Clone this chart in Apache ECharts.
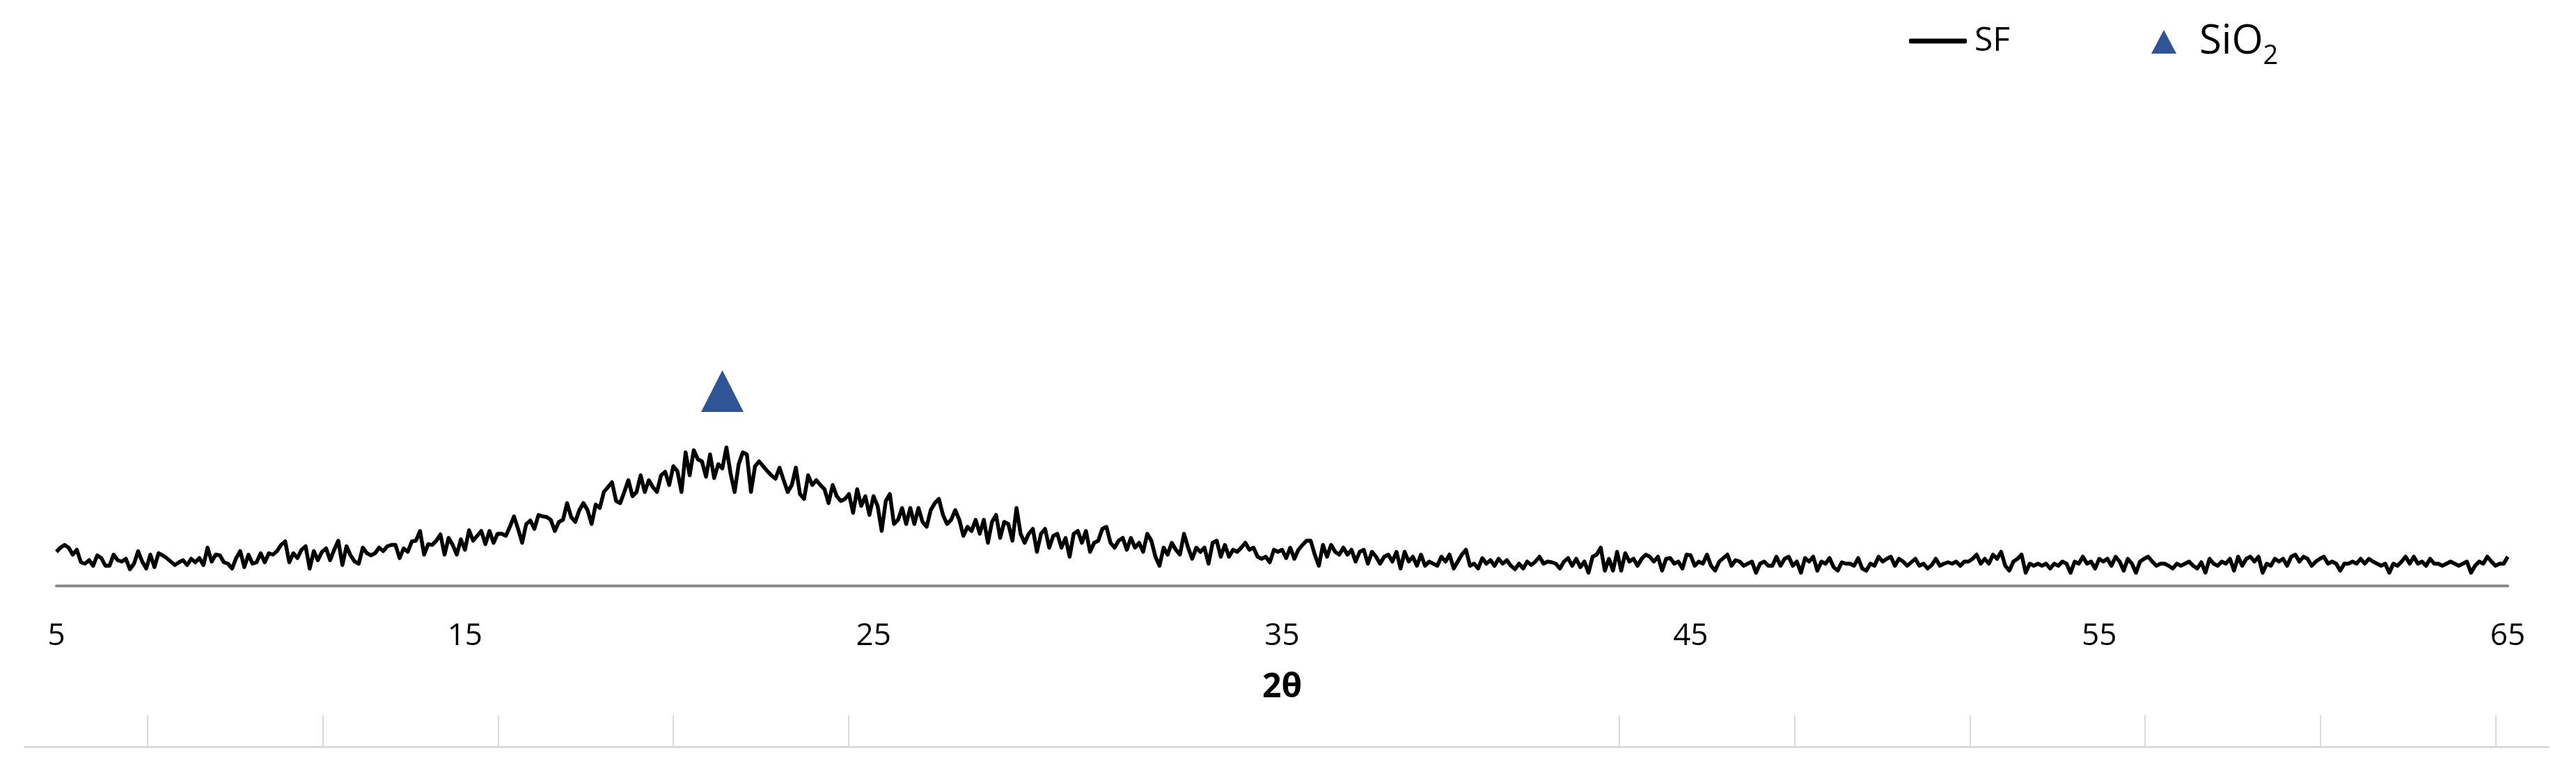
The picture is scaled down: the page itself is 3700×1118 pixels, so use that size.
<!DOCTYPE html>
<html>
<head>
<meta charset="utf-8">
<title>XRD - SF</title>
<script src="https://cdn.jsdelivr.net/npm/echarts@6/dist/echarts.min.js"></script>
<style>
  html, body { margin: 0; padding: 0; background: #fff; }
  #chart { width: 3700px; height: 1118px; }
</style>
</head>
<body>
<div id="chart"></div>
<script>
// scan: 2θ from 5 to 65, one reading every 0.1°
const scanStart = 5;
const scanStep = 0.1;

// SF intensity (counts), split by 2θ range
const sf05to17 = [
  49, 55, 59, 55, 45, 52, 34, 32, 37, 29,
  44, 40, 29, 29, 45, 37, 35, 39, 24, 32,
  50, 35, 25, 45, 27, 47, 44, 40, 35, 30,
  34, 37, 30, 39, 34, 40, 30, 55, 35, 45,
  44, 34, 32, 25, 40, 50, 27, 45, 32, 34,
  47, 34, 47, 45, 50, 59, 64, 34, 47, 40,
  52, 57, 25, 50, 37, 49, 54, 37, 52, 65,
  30, 57, 44, 35, 32, 55, 47, 44, 47, 55,
  50, 57, 59, 59, 40, 54, 49, 64, 65, 79,
  45, 60, 59, 65, 74, 45, 69, 59, 45, 67,
  52, 80, 65, 72, 79, 60, 79, 62, 75, 75,
  72, 85, 100, 82, 62, 89, 94, 82, 102, 100,
  99
];
const sf17to29 = [
  95, 79, 92, 95, 119, 99, 92, 109, 119,
  109, 89, 117, 112, 135, 142, 149, 122, 119, 135,
  152, 129, 135, 159, 135, 152, 142, 135, 159, 164,
  145, 172, 165, 135, 192, 159, 195, 182, 179, 157,
  189, 155, 175, 169, 199, 162, 135, 175, 192, 189,
  135, 172, 179, 172, 165, 159, 154, 170, 152, 135,
  145, 170, 132, 125, 159, 145, 152, 145, 139, 119,
  145, 129, 122, 125, 132, 105, 139, 115, 129, 102,
  129, 115, 79, 122, 132, 89, 95, 112, 89, 112,
  89, 112, 92, 85, 109, 119, 125, 102, 89, 95,
  109, 95, 72, 85, 79, 95, 75, 95, 62, 92,
  102, 69, 92, 89, 65, 112, 75, 62, 75, 82,
  49, 75
];
const sf29to41 = [
  82, 55, 72, 75, 55, 69, 42, 75,
  79, 62, 79, 49, 62, 65, 82, 85, 62, 55,
  65, 69, 52, 69, 55, 62, 49, 75, 65, 42,
  29, 55, 45, 62, 52, 45, 75, 55, 39, 55,
  49, 55, 32, 62, 65, 42, 59, 42, 52, 49,
  55, 62, 52, 55, 42, 39, 42, 34, 52, 49,
  52, 40, 55, 39, 52, 59, 65, 65, 45, 29,
  59, 42, 59, 49, 45, 55, 45, 52, 35, 49,
  52, 32, 49, 42, 32, 42, 45, 35, 49, 25,
  49, 35, 42, 29, 45, 29, 35, 32, 29, 42,
  35, 45, 25, 35, 45, 52, 29, 32, 25, 40,
  32, 37, 29, 39, 32, 37, 29, 24, 32, 25,
  35, 30
];
const sf41to53 = [
  35, 42, 32, 35, 34, 32, 25, 35,
  40, 29, 39, 27, 35, 19, 42, 45, 55, 22,
  39, 22, 49, 22, 47, 35, 39, 29, 39, 45,
  42, 35, 42, 22, 39, 40, 32, 35, 25, 45,
  44, 29, 35, 32, 45, 29, 22, 35, 40, 45,
  29, 37, 35, 29, 32, 35, 19, 32, 35, 29,
  29, 42, 29, 39, 42, 29, 35, 19, 40, 35,
  42, 22, 35, 32, 40, 27, 22, 34, 32, 32,
  29, 40, 25, 22, 32, 29, 42, 35, 39, 42,
  29, 39, 35, 29, 34, 39, 29, 32, 25, 30,
  39, 29, 32, 34, 32, 35, 29, 35, 35, 39,
  45, 32, 39, 32, 45, 39, 49, 29, 22, 35,
  39
];
const sf53to65 = [
  45, 19, 32, 29, 32, 29, 32, 25, 32,
  29, 35, 32, 19, 35, 32, 42, 32, 35, 25,
  39, 35, 39, 29, 42, 35, 22, 39, 32, 19,
  35, 39, 42, 35, 29, 32, 32, 29, 25, 32,
  29, 32, 35, 29, 25, 34, 19, 39, 32, 29,
  35, 32, 39, 22, 42, 29, 39, 42, 35, 42,
  19, 32, 29, 39, 35, 39, 29, 42, 45, 35,
  42, 39, 29, 35, 39, 42, 32, 35, 32, 22,
  32, 32, 35, 32, 39, 32, 39, 35, 32, 29,
  32, 19, 32, 29, 35, 42, 32, 42, 32, 35,
  29, 39, 32, 32, 29, 32, 35, 32, 29, 32,
  35, 19, 29, 35, 32, 42, 35, 29, 32, 32,
  42
];

// SiO2 reflection marker [2θ, height]
const sio2Marks = [[21.3, 280]];

const xTickLabels = [5, 15, 25, 35, 45, 55, 65];
// tick marks of the empty lower axis
const lowerAxisTicks = [7, 17, 27, 37, 47, 91, 101, 111, 121, 131, 141];

const fontFam = '"Open Sans", "DejaVu Sans", sans-serif';

const sfIntensity = [].concat(sf05to17, sf17to29, sf29to41, sf41to53, sf53to65);
const sfData = sfIntensity.map((v, i) => [+(scanStart + i * scanStep).toFixed(1), v]);

const chart = echarts.init(document.getElementById('chart'), null, { renderer: 'canvas' });

const option = {
    animation: false,
    backgroundColor: '#ffffff',
    textStyle: { fontFamily: fontFam },
    legend: [
        {
            data: [{ name: 'SF', icon: 'roundRect' }],
            left: 2737,
            top: 30,
            itemWidth: 83,
            itemHeight: 7,
            textStyle: { fontSize: 48, color: '#000', fontFamily: fontFam, padding: [0, 0, 0, 6] }
        },
        {
            data: [{ name: 'SiO2', icon: 'triangle' }],
            left: 3085,
            top: 26,
            itemWidth: 36,
            itemHeight: 34,
            itemStyle: { opacity: 1 },
            formatter: () => '{a|SiO}{b|2}',
            textStyle: {
                fontFamily: fontFam,
                rich: {
                    a: { fontSize: 58, color: '#000', fontFamily: fontFam, padding: [0, 0, 0, 28], verticalAlign: 'middle' },
                    b: { fontSize: 38, color: '#000', fontFamily: fontFam, padding: [42, 0, 0, 0], verticalAlign: 'middle' }
                }
            }
        }
    ],
    grid: [
        { left: 81, right: 98, top: 42, bottom: 276, outerBoundsMode: 'none' },
        { left: 36, right: 40, top: 1000, bottom: 45, outerBoundsMode: 'none' }
    ],
    xAxis: [
        {
            type: 'value',
            gridIndex: 0,
            min: 5,
            max: 65,
            name: '2θ',
            nameLocation: 'middle',
            nameGap: 122,
            nameTextStyle: { fontSize: 48, fontWeight: 'bold', color: '#000', fontFamily: fontFam },
            axisLine: { lineStyle: { color: '#898989', width: 4 } },
            axisTick: { show: false },
            splitLine: { show: false },
            axisLabel: { customValues: xTickLabels, fontSize: 44, color: '#000', margin: 50, fontFamily: fontFam }
        },
        {
            type: 'value',
            gridIndex: 1,
            min: 0,
            max: 144,
            axisLine: { lineStyle: { color: '#d9d9d9', width: 3 } },
            axisTick: {
                inside: true,
                length: 45,
                customValues: lowerAxisTicks,
                lineStyle: { color: '#d9d9d9', width: 2 }
            },
            axisLabel: { show: false },
            splitLine: { show: false }
        }
    ],
    yAxis: [
        { type: 'value', gridIndex: 0, min: 0, max: 800, show: false },
        { type: 'value', gridIndex: 1, min: 0, max: 1, show: false }
    ],
    series: [
        {
            name: 'SF',
            type: 'line',
            xAxisIndex: 0,
            yAxisIndex: 0,
            data: sfData,
            symbol: 'none',
            showSymbol: false,
            lineStyle: { color: '#000', width: 5.5, join: 'round' },
            itemStyle: { color: '#000' }
        },
        {
            name: 'SiO2',
            type: 'scatter',
            xAxisIndex: 0,
            yAxisIndex: 0,
            data: sio2Marks,
            symbol: 'triangle',
            symbolSize: [61, 60],
            itemStyle: { color: '#2f5597', opacity: 1 }
        },
        {
            name: 'lower',
            type: 'line',
            xAxisIndex: 1,
            yAxisIndex: 1,
            data: []
        }
    ]
};

chart.setOption(option);
window.addEventListener('resize', () => chart.resize());
</script>
</body>
</html>
